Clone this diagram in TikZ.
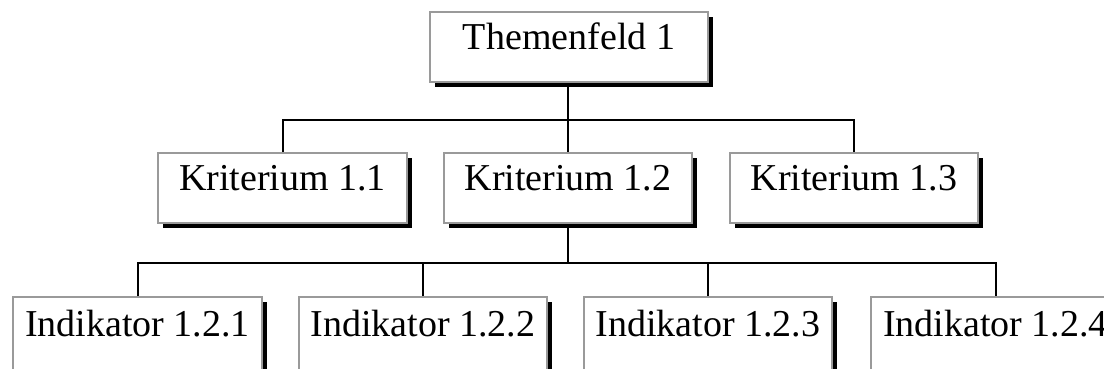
\documentclass[tikz,border=0pt]{standalone}
\usepackage{fontspec}
\setmainfont{Liberation Serif}
\usetikzlibrary{shadows}
\definecolor{boxgray}{HTML}{9A9A9A}
\tikzset{
  box/.style={draw=boxgray, line width=2pt, fill=white, rectangle, inner sep=0pt,
    minimum height=70pt, text height=0.7em, text depth=0.2em,
    font=\fontsize{38}{40}\selectfont,
    drop shadow={shadow xshift=5pt, shadow yshift=-5pt, fill=black, opacity=1}},
  indbox/.style={box, minimum height=76pt, text depth=0.38em},
  conn/.style={draw=black, line width=2pt}
}
\begin{document}
\begin{tikzpicture}[x=1pt,y=1pt]
\path[use as bounding box, clip] (0,0) rectangle (1104,-368);
\fill[white] (0,0) rectangle (1104,-368);
% top
\node[box, minimum width=278pt] (T) at (569,-47) {Themenfeld 1};
% criteria
\node[box, minimum width=249pt] (K1) at (282.5,-188) {Kriterium 1.1};
\node[box, minimum width=248pt] (K2) at (568,-188) {Kriterium 1.2};
\node[box, minimum width=248pt] (K3) at (854,-188) {Kriterium 1.3};
% indicators
\node[indbox, minimum width=249pt] (I1) at (137.5,-335) {Indikator 1.2.1};
\node[indbox, minimum width=248pt] (I2) at (423,-335) {Indikator 1.2.2};
\node[indbox, minimum width=248pt] (I3) at (708,-335) {Indikator 1.2.3};
\node[indbox, minimum width=249pt] (I4) at (995.5,-335) {Indikator 1.2.4};
% connectors
\coordinate (b1) at (568,-120);
\coordinate (b2) at (568,-263);
\draw[conn] (T.south -| b1) -- (b1);
\draw[conn] (K1.north) |- (b1) -| (K3.north);
\draw[conn] (b1) -- (K2.north);
\draw[conn] (K2.south) -- (b2);
\draw[conn] (I1.north) |- (b2) -| (I4.north);
\draw[conn] (I2.north) |- (b2);
\draw[conn] (I3.north) |- (b2);
\end{tikzpicture}
\end{document}
